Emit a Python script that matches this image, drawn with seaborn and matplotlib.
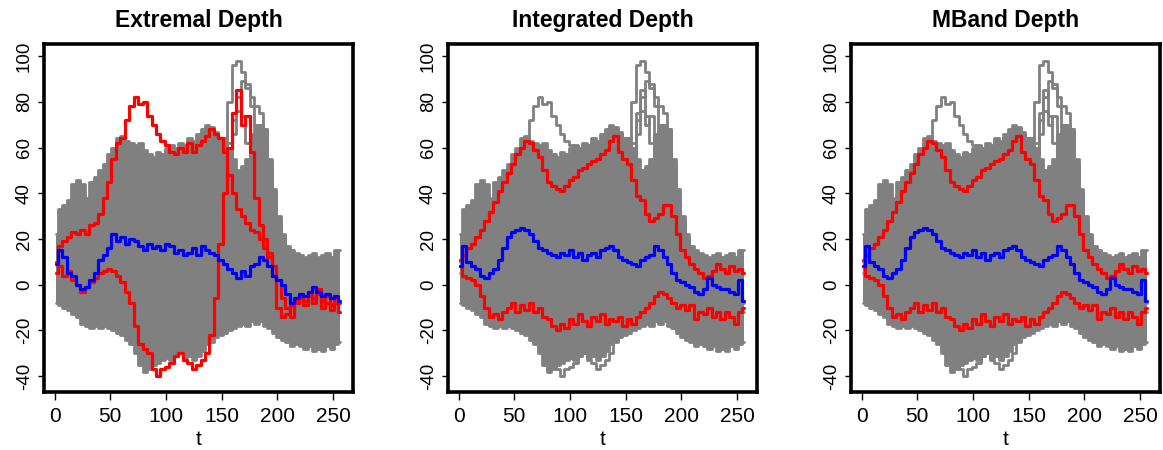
import numpy as np
import pandas as pd
import matplotlib
matplotlib.use("Agg")
import matplotlib.pyplot as plt
import seaborn as sns

# ---------------- data ----------------
t_grid = list(range(1, 254, 4)) + [256]

# the two extremal-depth outliers (red in panel 1, grey in panels 2 and 3)
curve_a = [10, 17, 19, 21, 23, 22, 24, 22,
           26, 27, 31, 38, 45, 55, 62, 64,
           72, 78, 82, 79, 80, 74, 70, 66,
           63, 61, 58, 57, 60, 58, 62, 58,
           61, 63, 65, 68, 66, 64, 58, 48,
           40, 33, 30, 27, 24, 23, 20, 16,
           12, 4, -10, -14, -13, -9, -7, -6,
           -9, -5, -8, -4, -10, -8, -11, -8,
           -12]
curve_b = [5, 8, 4, 6, 2, 0, -3, -1,
           1, 3, 5, 6, 7, 6, 4, 1,
           -3, -8, -18, -26, -28, -30, -37, -40,
           -37, -36, -34, -31, -30, -33, -34, -37,
           -35, -33, -30, -22, -6, 18, 40, 60,
           75, 85, 70, 74, 58, 38, 26, 20,
           14, 8, 2, -6, -10, -14, -8, -4,
           -7, -3, -6, -2, -7, -5, -9, -6,
           -8]
median_ed = [9, 15, 12, 5, 4, 0, -2, -1,
             2, 5, 11, 13, 16, 22, 19, 21,
             18, 20, 19, 17, 15, 18, 16, 17,
             15, 18, 17, 14, 15, 13, 14, 16,
             13, 17, 15, 14, 13, 11, 9, 7,
             5, 3, 6, 4, 8, 9, 12, 11,
             8, 4, 2, 0, -4, -8, -6, -4,
             -5, -3, -1, -3, -5, -4, -6, -5,
             -7]

# integrated / modified band depth: outer curves and median
band_hi = [11, 13, 16, 18, 21, 24, 28, 32,
           36, 41, 45, 49, 53, 57, 60, 63,
           62, 59, 56, 50, 45, 43, 42, 41,
           43, 46, 47, 50, 51, 53, 54, 55,
           57, 59, 63, 65, 58, 55, 53, 46,
           39, 37, 31, 28, 29, 31, 35, 35,
           30, 22, 15, 12, 9, 7, 5, 3,
           4, 6, 9, 7, 5, 8, 6, 7,
           5]
band_lo = [8, 4, 3, 2, 0, -5, -10, -14,
           -13, -15, -12, -10, -8, -12, -9, -11,
           -8, -12, -10, -14, -15, -18, -20, -17,
           -19, -15, -17, -13, -16, -18, -14, -16,
           -13, -17, -15, -16, -14, -18, -15, -17,
           -14, -12, -10, -8, -5, -3, -4, -6,
           -8, -10, -9, -11, -9, -15, -12, -13,
           -10, -14, -12, -15, -12, -14, -17, -12,
           -10]
median_id = [8, 17, 10, 8, 7, 4, 3, 5,
             7, 11, 16, 21, 23, 24, 25, 24,
             22, 19, 16, 15, 14, 13, 12, 14,
             13, 15, 12, 14, 11, 13, 14, 12,
             15, 16, 17, 15, 12, 11, 10, 9,
             8, 11, 12, 13, 17, 15, 12, 9,
             5, 2, 1, 0, -1, -3, -4, -2,
             3, 0, -1, -2, -2, -3, -4, 2,
             -7]

# envelope of the grey mass of curves
mass_hi = [22, 33, 35, 37, 44, 46, 44, 38,
           45, 47, 50, 53, 57, 60, 64, 65,
           63, 62, 61, 62, 59, 57, 56, 58,
           57, 60, 61, 60, 62, 61, 64, 63,
           66, 68, 70, 69, 67, 64, 64, 60,
           55, 50, 52, 55, 66, 70, 70, 68,
           55, 42, 30, 22, 17, 15, 14, 13,
           12, 13, 14, 12, 13, 14, 12, 15,
           15]
mass_lo = [-8, -9, -10, -11, -13, -14, -17, -18,
           -19, -18, -19, -18, -19, -20, -21, -22,
           -24, -26, -30, -35, -38, -37, -35, -34,
           -33, -32, -33, -31, -30, -32, -31, -33,
           -31, -29, -26, -25, -23, -22, -21, -20,
           -19, -18, -17, -18, -16, -17, -16, -18,
           -19, -21, -23, -24, -25, -27, -26, -27,
           -28, -27, -29, -28, -29, -27, -28, -26,
           -25]

# grey curves with the tall peaks near t = 165
peak_t = [141, 145, 149, 153, 157, 161, 165, 169, 173,
          177, 181, 185, 189, 193, 197, 201, 205, 209]
peak1 = [62, 60, 58, 64, 80, 96, 98, 93, 88, 82, 78, 75, 68, 52, 38, 28, 20, 16]
peak2 = [60, 58, 55, 58, 62, 72, 82, 89, 86, 78, 70, 62, 58, 50, 40, 28, 20, 16]
peak3 = [55, 52, 50, 52, 56, 66, 76, 74, 62, 50, 55, 60, 58, 48, 38, 27, 19, 15]

titles = ["Extremal Depth", "Integrated Depth", "MBand Depth"]
x_ticks = [0, 50, 100, 150, 200, 250]
y_ticks = [-40, -20, 0, 20, 40, 60, 80, 100]

# ---------------- style ----------------
sns.set_theme(style="white")
plt.rcParams["font.family"] = ["Liberation Sans", "DejaVu Sans"]
plt.rcParams["text.color"] = "black"
plt.rcParams["axes.labelcolor"] = "black"

GREY = "#808080"
RED = "#FF0000"
BLUE = "#0000FF"

df = pd.DataFrame({"t": t_grid, "a": curve_a, "b": curve_b, "med_ed": median_ed,
                   "hi": band_hi, "lo": band_lo, "med_id": median_id,
                   "mhi": mass_hi, "mlo": mass_lo})
dpk = pd.DataFrame({"t": peak_t, "p1": peak1, "p2": peak2, "p3": peak3})

fig = plt.figure(figsize=(11.63, 4.5), dpi=100)
lefts = [44, 448, 851]
W, H = 309, 348
axes = [fig.add_axes([l / 1163, (450 - 392) / 450, W / 1163, H / 450]) for l in lefts]

LW = 2.3
def line(ax, data, col, color, lw=LW, z=3):
    sns.lineplot(data=data, x="t", y=col, ax=ax, color=color, lw=lw,
                 drawstyle="steps-mid", zorder=z, legend=False,
                 estimator=None, sort=False)

for i, ax in enumerate(axes):
    ax.fill_between(df["t"], df["mlo"], df["mhi"], step="mid", color=GREY,
                    lw=0, zorder=1)
    for c in ["mhi", "mlo"]:
        line(ax, df, c, GREY, lw=2.0, z=1.5)
    for c in ["p1", "p2", "p3"]:
        line(ax, dpk, c, GREY, lw=2.0, z=2)
    if i == 0:
        line(ax, df, "a", RED, z=4)
        line(ax, df, "b", RED, z=4)
        line(ax, df, "med_ed", BLUE, z=5)
    else:
        line(ax, df, "a", GREY, lw=2.0, z=2)
        line(ax, df, "b", GREY, lw=2.0, z=2)
        line(ax, df, "hi", RED, z=4)
        line(ax, df, "lo", RED, z=4)
        line(ax, df, "med_id", BLUE, z=5)

    ax.set_xlim(-9.5, 267.8)
    ax.set_ylim(-46.9, 105.3)
    ax.set_xticks(x_ticks)
    ax.set_yticks(y_ticks)
    ax.set_xticklabels([str(v) for v in x_ticks], fontsize=15)
    ax.set_yticklabels([str(v) for v in y_ticks], fontsize=13.5, rotation=90,
                       va="center")
    ax.tick_params(axis="x", direction="out", length=6, width=1.0, pad=5,
                   colors="black", bottom=True)
    ax.tick_params(axis="y", direction="out", length=4, width=1.0, pad=4,
                   colors="black", left=True)
    for s in ax.spines.values():
        s.set_visible(True)
        s.set_color("black")
        s.set_linewidth(2.6)
    ax.set_xlabel("t", fontsize=15, labelpad=3, color="black")
    ax.set_ylabel("")
    ax.set_title(titles[i], fontsize=16.5, fontweight="bold", pad=12,
                 color="black")
    ax.set_facecolor("white")

fig.savefig("out.png", dpi=100, facecolor="white")
